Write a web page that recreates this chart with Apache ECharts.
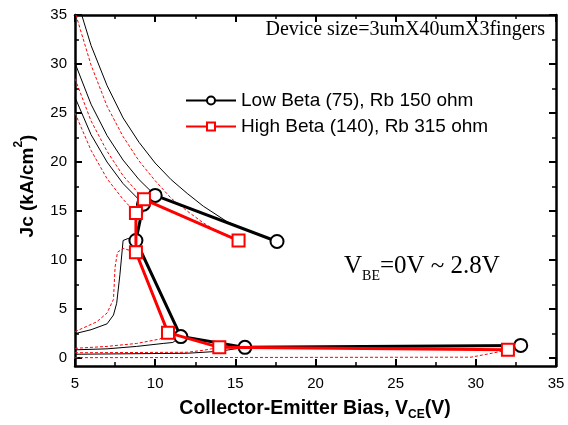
<!DOCTYPE html>
<html>
<head>
<meta charset="UTF-8">
<script src="https://cdn.jsdelivr.net/npm/echarts@6/dist/echarts.min.js"></script>
<style>
  html, body { margin: 0; padding: 0; background: #fff; }
  #main { width: 568px; height: 425px; }
</style>
</head>
<body>
<div id="main"></div>
<script>
// measured points (Vce, Jc)
var lowBeta = [[17.6, 11.9], [10.0, 16.6], [9.27, 15.7], [8.8, 12.0], [11.6, 2.2], [15.6, 1.1], [32.8, 1.3]];
var highBeta = [[15.2, 12.0], [9.3, 16.2], [8.8, 14.8], [8.8, 10.8], [10.8, 2.6], [14.0, 1.1], [32.0, 0.85]];

// thin sweeps behind the markers, black = low beta
var lowSweep1 = [[5.42, 35], [6, 31.9], [7, 27.8], [8, 24.5], [9, 22.0], [10, 19.9], [11, 18.2], [12, 16.8], [13, 15.5], [14.5, 13.9], [16, 12.9], [17.6, 11.9]];
var lowSweep2 = [[5, 30.1], [6, 25.9], [7, 22.7], [8, 20.2], [9, 18.2], [10, 16.6]];
var lowSweep3 = [[5, 26.6], [6, 22.8], [7, 20.0], [8, 17.8], [9.27, 15.7]];
var lowSweep4 = [[5, 2.5], [6, 2.9], [7, 3.5], [7.4, 4.4], [7.6, 5.6], [7.8, 8.5], [8.0, 12.0], [8.3, 12.2], [8.8, 12.0]];
var lowSweep5 = [[5, 0.85], [7, 0.95], [8.85, 1.2], [10.5, 1.5], [11.1, 1.6], [11.6, 2.2]];
var lowSweep6 = [[5, 0.4], [12, 0.5], [14, 0.7], [15.6, 1.1]];

// red dashed = high beta
var highSweep1 = [[5.06, 35], [6, 29.9], [7, 25.7], [8, 22.6], [9, 20.1], [10, 18.1], [11, 16.3], [12, 15.0], [13, 13.8], [13.6, 13.2], [15.2, 12.0]];
var highSweep2 = [[5, 28.5], [6, 24.2], [7, 21.1], [8, 18.6], [9.3, 16.2]];
var highSweep3 = [[5, 25.0], [6, 21.2], [7, 18.3], [8, 16.2], [8.8, 14.8]];
var highSweep4 = [[5, 2.7], [6.35, 3.7], [7, 4.6], [7.4, 6.0], [7.5, 9.3], [7.65, 10.8], [8.0, 11.2], [8.8, 10.8]];
var highSweep5 = [[5, 1.0], [7, 1.2], [8.85, 1.5], [10.3, 1.95], [10.8, 2.6]];
var highSweep6 = [[5, 0.55], [12, 0.6], [13, 0.8], [14, 1.1]];
var highSweep7 = [[5, 0.05], [29.7, 0.1], [31, 0.5], [32, 0.85]];

var yTicks = [0, 5, 10, 15, 20, 25, 30, 35];
var yMinor = [2.5, 7.5, 12.5, 17.5, 22.5, 27.5, 32.5];

var lowName = 'Low Beta (75), Rb 150 ohm';
var highName = 'High Beta (140), Rb 315 ohm';

var chart = echarts.init(document.getElementById('main'));

var series = [];
[lowSweep1, lowSweep2, lowSweep3, lowSweep4, lowSweep5, lowSweep6].forEach(function (d) {
  series.push({ type: 'line', data: d, symbol: 'none', silent: true, z: 2,
    lineStyle: { color: '#000', width: 1 } });
});
[highSweep1, highSweep2, highSweep3, highSweep4, highSweep5, highSweep6, highSweep7].forEach(function (d) {
  series.push({ type: 'line', data: d, symbol: 'none', silent: true, z: 2,
    lineStyle: { color: '#ff0000', width: 1, type: [3, 2] } });
});
series.push({
  name: lowName, type: 'line', data: lowBeta, z: 4,
  symbol: 'circle', symbolSize: 13,
  lineStyle: { color: '#000', width: 3 },
  itemStyle: { color: '#fff', borderColor: '#000', borderWidth: 2 }
});
series.push({
  name: highName, type: 'line', data: highBeta, z: 5,
  symbol: 'rect', symbolSize: 12,
  lineStyle: { color: '#ff0000', width: 3 },
  itemStyle: { color: '#fff', borderColor: '#ff0000', borderWidth: 2 }
});

function xAx(pos, labels) {
  return {
    type: 'value', position: pos, min: 5, max: 35, interval: 5,
    axisLine: { show: true, onZero: false, lineStyle: { color: '#000', width: 2.5 } },
    axisTick: { show: true, inside: true, length: 7, lineStyle: { color: '#000', width: 2 } },
    minorTick: { show: true, splitNumber: 2, length: 4, lineStyle: { color: '#000', width: 1.5 } },
    axisLabel: { show: labels, color: '#000', fontSize: 15, fontFamily: 'Liberation Sans', margin: 10 },
    splitLine: { show: false }
  };
}
function yAx(pos, vals, len, main, labels) {
  return {
    type: 'value', position: pos, min: -0.8, max: 35,
    axisLine: { show: true, onZero: false, lineStyle: { color: '#000', width: main ? 2.5 : 0 } },
    axisTick: { show: true, inside: true, length: len, customValues: vals,
      lineStyle: { color: '#000', width: main ? 2 : 1.5 } },
    axisLabel: { show: labels, customValues: vals, color: '#000', fontSize: 15, fontFamily: 'Liberation Sans', margin: 8 },
    splitLine: { show: false }
  };
}

var option = {
  backgroundColor: '#fff',
  animation: false,
  grid: { left: 75, right: 12, top: 15, bottom: 59 },
  xAxis: [xAx('bottom', true), xAx('top', false)],
  yAxis: [
    yAx('left', yTicks, 7, true, true),
    yAx('right', yTicks, 7, true, false),
    yAx('left', yMinor, 4, false, false),
    yAx('right', yMinor, 4, false, false)
  ],
  legend: {
    data: [lowName, highName],
    orient: 'vertical', left: 180, top: 86,
    itemWidth: 50, itemHeight: 10, itemGap: 7,
    textStyle: { color: '#000', fontSize: 19, fontFamily: 'Liberation Sans' }
  },
  graphic: [
    { type: 'text', x: 545, y: 40, style: { text: 'Device size=3umX40umX3fingers', fill: '#000',
        font: '20px "Liberation Serif"', textAlign: 'right', textVerticalAlign: 'bottom' } },
    { type: 'text', x: 344, y: 254, style: { rich: {
        a: { fontSize: 25, fontFamily: 'Liberation Serif', fill: '#000', verticalAlign: 'top' },
        s: { fontSize: 14, fontFamily: 'Liberation Serif', fill: '#000', verticalAlign: 'top', padding: [15, 0, 0, 0] } },
        text: '{a|V}{s|BE}{a|=0V ~ 2.8V}' } },
    { type: 'text', x: 315, y: 399, style: { align: 'center', rich: {
        a: { fontSize: 19.5, fontWeight: 'bold', fontFamily: 'Liberation Sans', fill: '#000', verticalAlign: 'top' },
        s: { fontSize: 12, fontWeight: 'bold', fontFamily: 'Liberation Sans', fill: '#000', verticalAlign: 'top', padding: [10, 0, 0, 0] } },
        text: '{a|Collector-Emitter Bias, V}{s|CE}{a|(V)}' } },
    { type: 'text', x: 13, y: 186, rotation: Math.PI / 2, style: { align: 'center', rich: {
        a: { fontSize: 19, fontWeight: 'bold', fontFamily: 'Liberation Sans', fill: '#000', verticalAlign: 'top', padding: [5, 0, 0, 0] },
        p: { fontSize: 12, fontWeight: 'bold', fontFamily: 'Liberation Sans', fill: '#000', verticalAlign: 'top' } },
        text: '{a|Jc (kA/cm}{p|2}{a|)}' } }
  ],
  series: series
};
chart.setOption(option);
</script>
</body>
</html>
